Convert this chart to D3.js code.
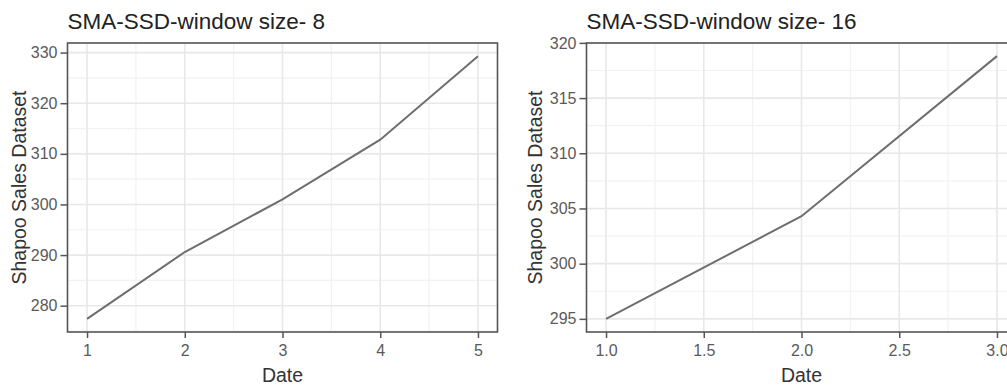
<!DOCTYPE html>
<html>
<head>
<meta charset="utf-8">
<script src="https://cdn.jsdelivr.net/npm/d3@7"></script>
<style>
  html, body { margin: 0; padding: 0; background: #fff; overflow: hidden; }
  svg { display: block; font-family: "Liberation Sans", Arial, sans-serif; }
</style>
</head>
<body>
<svg id="chart" width="1007" height="389"></svg>
<script>
// Moving-average series for two window sizes
const dateW8 = [1, 2, 3, 4, 5];
const salesW8 = [277.4, 290.6, 301.0, 312.8, 329.3];
const xTicksW8 = [1, 2, 3, 4, 5];
const yTicksW8 = [280, 290, 300, 310, 320, 330];

const dateW16 = [1, 2, 3];
const salesW16 = [295.0, 304.3, 318.8];
const xTicksW16 = [1.0, 1.5, 2.0, 2.5, 3.0];
const yTicksW16 = [295, 300, 305, 310, 315, 320];

const titles = ["SMA-SSD-window size- 8", "SMA-SSD-window size- 16"];
const xLabel = "Date";
const yLabel = "Shapoo Sales Dataset";

const svg = d3.select("#chart");

// ggplot-like padding: 5% of the data range on each side
function expanded(values) {
  const [lo, hi] = d3.extent(values);
  const pad = (hi - lo) * 0.05;
  return [lo - pad, hi + pad];
}

function midpoints(ticks) {
  const out = [];
  const step = ticks[1] - ticks[0];
  out.push(ticks[0] - step / 2);
  for (let i = 0; i < ticks.length - 1; i++) out.push((ticks[i] + ticks[i + 1]) / 2);
  out.push(ticks[ticks.length - 1] + step / 2);
  return out;
}

function drawPanel(cfg) {
  const { x0, x1, y0, y1 } = cfg.box;
  const x = d3.scaleLinear().domain(expanded(cfg.dates)).range([x0, x1]);
  const y = d3.scaleLinear().domain(expanded(cfg.sales)).range([y1, y0]);
  const g = svg.append("g");

  // panel background
  g.append("rect").attr("x", x0).attr("y", y0).attr("width", x1 - x0).attr("height", y1 - y0)
    .attr("fill", "#fff");

  const inX = v => v >= x.domain()[0] && v <= x.domain()[1];
  const inY = v => v >= y.domain()[0] && v <= y.domain()[1];

  // minor grid
  const grid = g.append("g");
  grid.selectAll(".mx").data(midpoints(cfg.xTicks).filter(inX)).join("line")
    .attr("x1", d => x(d)).attr("x2", d => x(d)).attr("y1", y0).attr("y2", y1)
    .attr("stroke", "#f2f2f2").attr("stroke-width", 1.2);
  grid.selectAll(".my").data(midpoints(cfg.yTicks).filter(inY)).join("line")
    .attr("y1", d => y(d)).attr("y2", d => y(d)).attr("x1", x0).attr("x2", x1)
    .attr("stroke", "#f2f2f2").attr("stroke-width", 1.2);
  // major grid
  grid.selectAll(".gx").data(cfg.xTicks).join("line")
    .attr("x1", d => x(d)).attr("x2", d => x(d)).attr("y1", y0).attr("y2", y1)
    .attr("stroke", "#e8e8e8").attr("stroke-width", 1.6);
  grid.selectAll(".gy").data(cfg.yTicks).join("line")
    .attr("y1", d => y(d)).attr("y2", d => y(d)).attr("x1", x0).attr("x2", x1)
    .attr("stroke", "#e8e8e8").attr("stroke-width", 1.6);

  // series line
  const pts = cfg.dates.map((d, i) => [d, cfg.sales[i]]);
  g.append("path").datum(pts)
    .attr("d", d3.line().x(d => x(d[0])).y(d => y(d[1])))
    .attr("fill", "none").attr("stroke", "#6e6e6e").attr("stroke-width", 2);

  // panel border
  g.append("rect").attr("x", x0).attr("y", y0).attr("width", x1 - x0).attr("height", y1 - y0)
    .attr("fill", "none").attr("stroke", "#555").attr("stroke-width", 1.6);

  // axes
  const xAxis = g.append("g").attr("transform", `translate(0,${y1})`)
    .call(d3.axisBottom(x).tickValues(cfg.xTicks).tickFormat(cfg.xFormat).tickSize(6).tickPadding(7));
  const yAxis = g.append("g").attr("transform", `translate(${x0},0)`)
    .call(d3.axisLeft(y).tickValues(cfg.yTicks).tickFormat(d3.format("d")).tickSize(7).tickPadding(3));
  [xAxis, yAxis].forEach(a => {
    a.select(".domain").remove();
    a.selectAll(".tick line").attr("stroke", "#555").attr("stroke-width", 1.5);
    a.selectAll(".tick text").attr("fill", "#5a5a5a").style("font-size", "16px")
      .style("font-family", "'Liberation Sans', Arial, sans-serif");
  });

  // titles
  g.append("text").attr("x", x0).attr("y", 29).text(cfg.title)
    .attr("fill", "#222").style("font-size", "22.5px");
  g.append("text").attr("x", x(d3.mean(x.domain()))).attr("y", 382)
    .attr("text-anchor", "middle").text(xLabel)
    .attr("fill", "#333").style("font-size", "19.5px");
  g.append("text")
    .attr("transform", `translate(${cfg.yLabelX},${(y0 + y1) / 2}) rotate(-90)`)
    .attr("text-anchor", "middle").text(yLabel)
    .attr("fill", "#333").style("font-size", "19.5px");
}

drawPanel({
  title: titles[0], dates: dateW8, sales: salesW8,
  xTicks: xTicksW8, yTicks: yTicksW8, xFormat: d3.format("d"),
  box: { x0: 67.5, x1: 497.5, y0: 43, y1: 332 }, yLabelX: 26
});
drawPanel({
  title: titles[1], dates: dateW16, sales: salesW16,
  xTicks: xTicksW16, yTicks: yTicksW16, xFormat: d3.format(".1f"),
  box: { x0: 586.5, x1: 1016.5, y0: 43, y1: 332 }, yLabelX: 542
});
</script>
</body>
</html>
